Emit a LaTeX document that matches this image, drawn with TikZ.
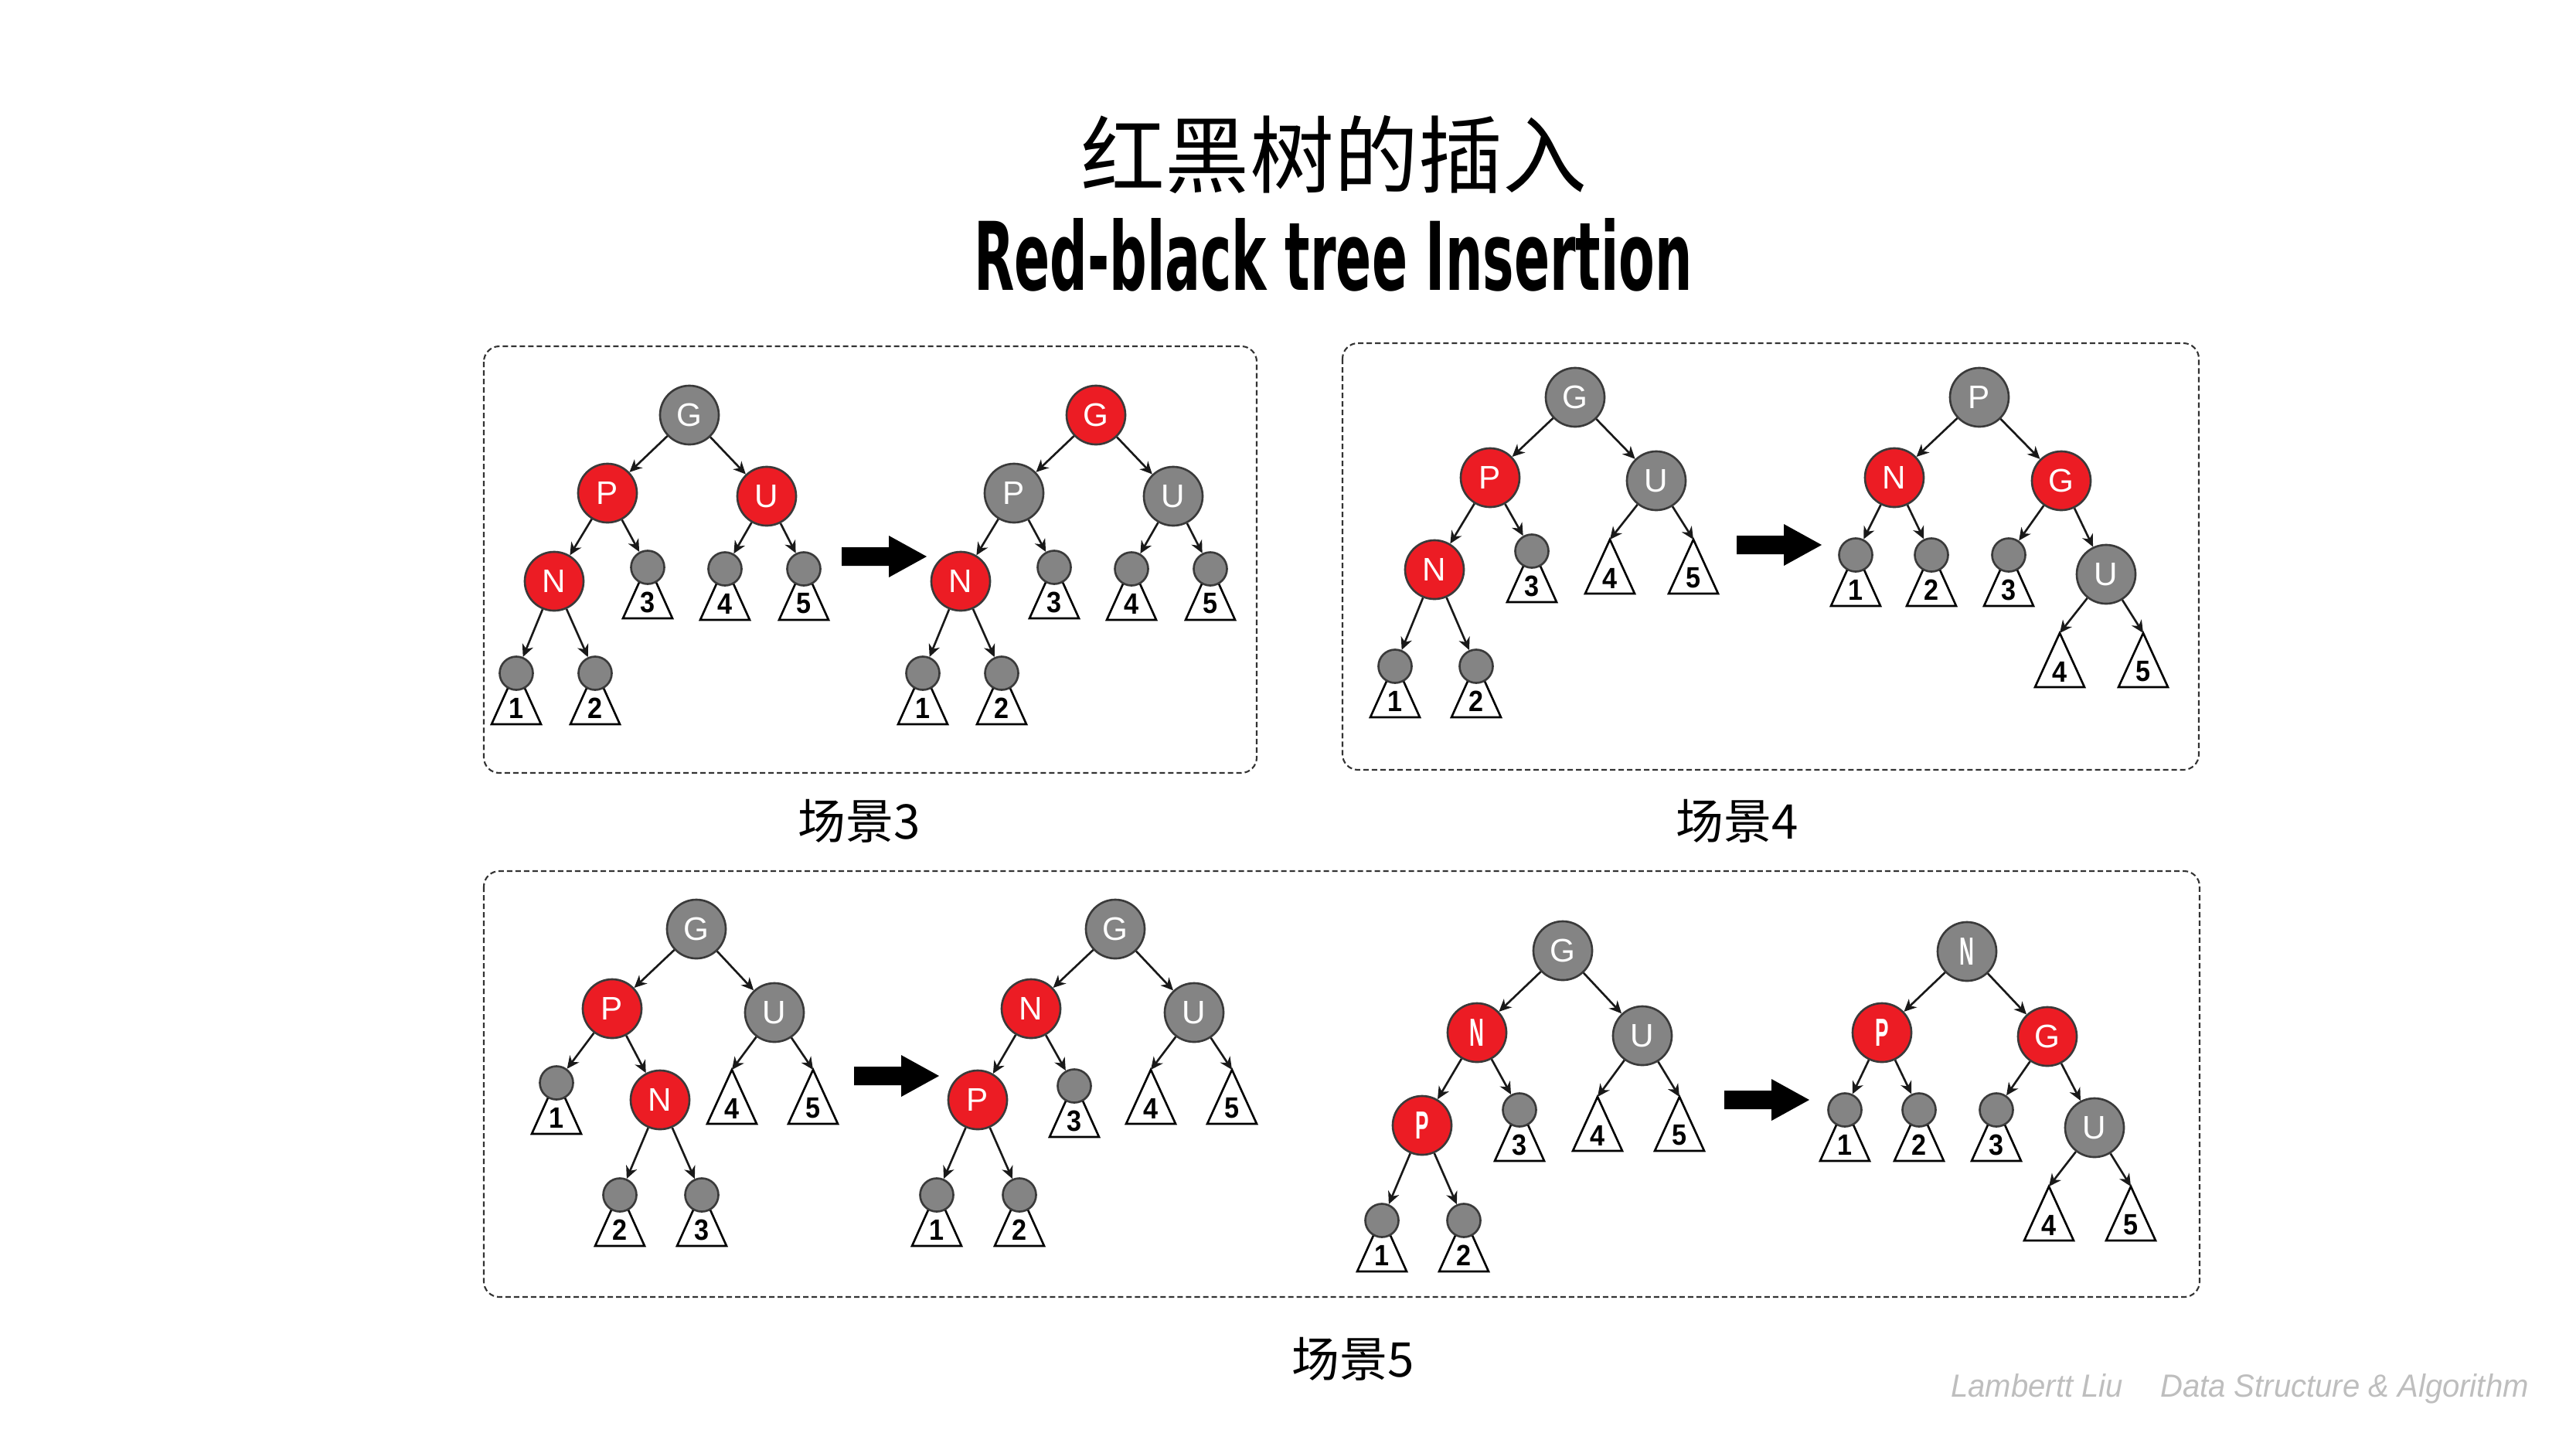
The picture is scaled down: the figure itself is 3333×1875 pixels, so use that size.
\documentclass[tikz,border=0pt]{standalone}
\usepackage{fontspec}
\usepackage{graphicx}
\setmainfont{Liberation Sans}
\newfontfamily\cjkfont{Noto Sans CJK SC}
\newfontfamily\headfont{DejaVu Sans}
\usetikzlibrary{arrows.meta}

\definecolor{rbred}{HTML}{EC1C24}
\definecolor{rbgray}{HTML}{848484}
\definecolor{rbline}{HTML}{3A3A3A}
\definecolor{footgray}{HTML}{BEBEBE}

\tikzset{
  rbnode/.style={circle, minimum size=0.76cm, inner sep=0pt, draw=rbline,
    line width=0.75pt, text=white, font=\fontsize{12}{13}\selectfont},
  rednode/.style={rbnode, fill=rbred},
  graynode/.style={rbnode, fill=rbgray},
  nildot/.style={circle, minimum size=0.43cm, inner sep=0pt, draw=rbline,
    line width=0.75pt, fill=rbgray},
  subtri/.style={draw=black, fill=white, line width=0.75pt},
  subnum/.style={inner sep=0pt, font=\bfseries\fontsize{10.8}{12}\selectfont},
  edge/.style={draw=black!90, line width=0.75pt,
    -{Stealth[length=0.16cm,width=0.15cm,inset=0.05cm]}},
  panel/.style={draw=black!80, line width=0.6pt,
    dash pattern=on 0.07cm off 0.04cm, rounded corners=0.2cm},
  caption/.style={font=\cjkfont\fontsize{17.6}{20}\selectfont},
  % nil leaf with the subtree triangle hanging below it
  leafsub/.pic={
    \draw[subtri] (0,-5) -- (-32,66) -- (32,66) -- cycle;
    \node[subnum] at (0,45) {\scalebox{0.9}[1]{#1}};
    \node[nildot] (-dot) at (0,0) {};
  },
  % bare subtree triangle, apex at the origin
  baresub/.pic={
    \draw[subtri] (0,0) -- (-32,70) -- (32,70) -- cycle;
    \coordinate (-top) at (0,0);
    \node[subnum] at (0,50) {\scalebox{0.9}[1]{#1}};
  },
  % thick block arrow between two trees
  bigarrow/.pic={
    \fill[black] (0,-12) -- (61,-12) -- (61,-27) -- (110,0) -- (61,27)
      -- (61,12) -- (0,12) -- cycle;
  },
}
\newcommand{\thin}[1]{{\bfseries\scalebox{0.62}[1.2]{#1}}}

\begin{document}
\begin{tikzpicture}[x=0.01cm, y=-0.01cm]
\useasboundingbox (0,0) rectangle (3333,1875);

% headings
\node[font=\cjkfont\fontsize{31}{34}\selectfont] (title) at (1726,200) {红黑树的插入};
\node[inner sep=0pt] (subtitle) at (1725,330)
  {\resizebox{9.29cm}{0.93cm}{\headfont\bfseries Red-black tree Insertion}};

% panels
\draw[panel] (626,448) rectangle (1626,1000);
\draw[panel] (1737,444) rectangle (2845,996);
\draw[panel] (626,1127) rectangle (2846,1678);

\node[caption] (cap3) at (1112,1062) {场景3};
\node[caption] (cap4) at (2248,1062) {场景4};
\node[caption] (cap5) at (1751,1758) {场景5};

% ---------- case 3: recolouring ----------
\begin{scope}[shift={(892,537)}]
  \node[graynode] (aG) at (0,0) {G};
  \node[rednode] (aP) at (-106,101) {P};
  \node[rednode] (aU) at (100,105) {U};
  \node[rednode] (aN) at (-175,215) {N};
  \pic (a3) at (-54,197) {leafsub=3};
  \pic (a4) at (46,199) {leafsub=4};
  \pic (a5) at (148,199) {leafsub=5};
  \pic (a1) at (-224,334) {leafsub=1};
  \pic (a2) at (-122,334) {leafsub=2};
  \draw[edge] (aG) -- (aP);
  \draw[edge] (aG) -- (aU);
  \draw[edge] (aP) -- (aN);
  \draw[edge] (aP) -- (a3-dot);
  \draw[edge] (aU) -- (a4-dot);
  \draw[edge] (aU) -- (a5-dot);
  \draw[edge] (aN) -- (a1-dot);
  \draw[edge] (aN) -- (a2-dot);
\end{scope}
\pic at (1089,720) {bigarrow};
\begin{scope}[shift={(1418,537)}]
  \node[rednode] (bG) at (0,0) {G};
  \node[graynode] (bP) at (-106,101) {P};
  \node[graynode] (bU) at (100,105) {U};
  \node[rednode] (bN) at (-175,215) {N};
  \pic (b3) at (-54,197) {leafsub=3};
  \pic (b4) at (46,199) {leafsub=4};
  \pic (b5) at (148,199) {leafsub=5};
  \pic (b1) at (-224,334) {leafsub=1};
  \pic (b2) at (-122,334) {leafsub=2};
  \draw[edge] (bG) -- (bP);
  \draw[edge] (bG) -- (bU);
  \draw[edge] (bP) -- (bN);
  \draw[edge] (bP) -- (b3-dot);
  \draw[edge] (bU) -- (b4-dot);
  \draw[edge] (bU) -- (b5-dot);
  \draw[edge] (bN) -- (b1-dot);
  \draw[edge] (bN) -- (b2-dot);
\end{scope}

% ---------- case 4: right rotation at G ----------
\begin{scope}[shift={(2038,514)}]
  \node[graynode] (cG) at (0,0) {G};
  \node[rednode] (cP) at (-110,104) {P};
  \node[graynode] (cU) at (105,108) {U};
  \node[rednode] (cN) at (-182,223) {N};
  \pic (c3) at (-56,199) {leafsub=3};
  \pic (c4) at (45,184) {baresub=4};
  \pic (c5) at (153,184) {baresub=5};
  \pic (c1) at (-233,348) {leafsub=1};
  \pic (c2) at (-128,348) {leafsub=2};
  \draw[edge] (cG) -- (cP);
  \draw[edge] (cG) -- (cU);
  \draw[edge] (cP) -- (cN);
  \draw[edge] (cP) -- (c3-dot);
  \draw[edge] (cU) -- (c4-top);
  \draw[edge] (cU) -- (c5-top);
  \draw[edge] (cN) -- (c1-dot);
  \draw[edge] (cN) -- (c2-dot);
\end{scope}
\pic at (2247,705) {bigarrow};
\begin{scope}[shift={(2561,514)}]
  \node[graynode] (dP) at (0,0) {P};
  \node[rednode] (dN) at (-110,104) {N};
  \node[rednode] (dG) at (106,108) {G};
  \pic (d1) at (-160,204) {leafsub=1};
  \pic (d2) at (-62,204) {leafsub=2};
  \pic (d3) at (38,204) {leafsub=3};
  \node[graynode] (dU) at (164,229) {U};
  \pic (d4) at (104,305) {baresub=4};
  \pic (d5) at (212,305) {baresub=5};
  \draw[edge] (dP) -- (dN);
  \draw[edge] (dP) -- (dG);
  \draw[edge] (dN) -- (d1-dot);
  \draw[edge] (dN) -- (d2-dot);
  \draw[edge] (dG) -- (d3-dot);
  \draw[edge] (dG) -- (dU);
  \draw[edge] (dU) -- (d4-top);
  \draw[edge] (dU) -- (d5-top);
\end{scope}

% ---------- case 5: rotation at P, then case 4 ----------
\begin{scope}[shift={(901,1202)}]
  \node[graynode] (eG) at (0,0) {G};
  \node[rednode] (eP) at (-109,103) {P};
  \node[graynode] (eU) at (101,108) {U};
  \pic (e1) at (-181,199) {leafsub=1};
  \node[rednode] (eN) at (-47,221) {N};
  \pic (e4) at (46,182) {baresub=4};
  \pic (e5) at (151,182) {baresub=5};
  \pic (e2) at (-99,344) {leafsub=2};
  \pic (e3) at (7,344) {leafsub=3};
  \draw[edge] (eG) -- (eP);
  \draw[edge] (eG) -- (eU);
  \draw[edge] (eP) -- (e1-dot);
  \draw[edge] (eP) -- (eN);
  \draw[edge] (eU) -- (e4-top);
  \draw[edge] (eU) -- (e5-top);
  \draw[edge] (eN) -- (e2-dot);
  \draw[edge] (eN) -- (e3-dot);
\end{scope}
\pic at (1105,1392) {bigarrow};
\begin{scope}[shift={(1443,1202)}]
  \node[graynode] (fG) at (0,0) {G};
  \node[rednode] (fN) at (-109,103) {N};
  \node[graynode] (fU) at (102,108) {U};
  \node[rednode] (fP) at (-178,221) {P};
  \pic (f3) at (-53,203) {leafsub=3};
  \pic (f4) at (46,182) {baresub=4};
  \pic (f5) at (151,182) {baresub=5};
  \pic (f1) at (-231,344) {leafsub=1};
  \pic (f2) at (-124,344) {leafsub=2};
  \draw[edge] (fG) -- (fN);
  \draw[edge] (fG) -- (fU);
  \draw[edge] (fN) -- (fP);
  \draw[edge] (fN) -- (f3-dot);
  \draw[edge] (fU) -- (f4-top);
  \draw[edge] (fU) -- (f5-top);
  \draw[edge] (fP) -- (f1-dot);
  \draw[edge] (fP) -- (f2-dot);
\end{scope}

\begin{scope}[shift={(2022,1230)}]
  \node[graynode] (gG) at (0,0) {G};
  \node[rednode] (gN) at (-111,106) {\thin{N}};
  \node[graynode] (gU) at (103,110) {U};
  \node[rednode] (gP) at (-182,226) {\thin{P}};
  \pic (g3) at (-56,206) {leafsub=3};
  \pic (g4) at (45,189) {baresub=4};
  \pic (g5) at (151,189) {baresub=5};
  \pic (g1) at (-234,349) {leafsub=1};
  \pic (g2) at (-128,349) {leafsub=2};
  \draw[edge] (gG) -- (gN);
  \draw[edge] (gG) -- (gU);
  \draw[edge] (gN) -- (gP);
  \draw[edge] (gN) -- (g3-dot);
  \draw[edge] (gU) -- (g4-top);
  \draw[edge] (gU) -- (g5-top);
  \draw[edge] (gP) -- (g1-dot);
  \draw[edge] (gP) -- (g2-dot);
\end{scope}
\pic at (2231,1423) {bigarrow};
\begin{scope}[shift={(2545,1231)}]
  \node[graynode] (hN) at (0,0) {\thin{N}};
  \node[rednode] (hP) at (-110,105) {\thin{P}};
  \node[rednode] (hG) at (104,110) {G};
  \pic (h1) at (-158,205) {leafsub=1};
  \pic (h2) at (-62,205) {leafsub=2};
  \pic (h3) at (38,205) {leafsub=3};
  \node[graynode] (hU) at (165,228) {U};
  \pic (h4) at (106,304) {baresub=4};
  \pic (h5) at (212,304) {baresub=5};
  \draw[edge] (hN) -- (hP);
  \draw[edge] (hN) -- (hG);
  \draw[edge] (hP) -- (h1-dot);
  \draw[edge] (hP) -- (h2-dot);
  \draw[edge] (hG) -- (h3-dot);
  \draw[edge] (hG) -- (hU);
  \draw[edge] (hU) -- (h4-top);
  \draw[edge] (hU) -- (h5-top);
\end{scope}

% footer
\node[inner sep=0pt, text=footgray] (footer) at (2898,1797)
  {\resizebox{7.47cm}{0.30cm}{\itshape Lambertt Liu\hspace{1.2em}Data Structure \& Algorithm}};
\end{tikzpicture}
\end{document}
